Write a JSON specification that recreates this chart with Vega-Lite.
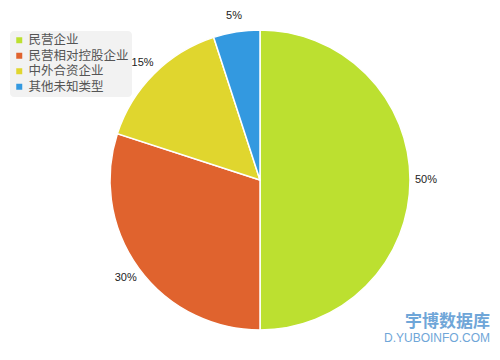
{
  "$schema": "https://vega.github.io/schema/vega-lite/v6.json",
  "width": 520,
  "height": 360,
  "padding": 0,
  "autosize": "none",
  "background": "white",
  "title": {
    "text": "宇博数据库",
    "subtitle": "D.YUBOINFO.COM",
    "orient": "bottom",
    "anchor": "end",
    "offset": -46,
    "dx": -30,
    "fontSize": 17,
    "fontWeight": "bold",
    "color": "#6fa6d8",
    "subtitleColor": "#6fa6d8",
    "subtitleFontSize": 12,
    "subtitlePadding": 2,
    "font": "Noto Sans CJK SC",
    "subtitleFont": "Liberation Sans"
  },
  "data": {
    "values": [
      {"type": "民营企业", "pct": 50, "label": "50%", "ord": 1},
      {"type": "民营相对控股企业", "pct": 30, "label": "30%", "ord": 2},
      {"type": "中外合资企业", "pct": 15, "label": "15%", "ord": 3},
      {"type": "其他未知类型", "pct": 5, "label": "5%", "ord": 4}
    ]
  },
  "encoding": {
    "theta": {"field": "pct", "type": "quantitative", "stack": true},
    "order": {"field": "ord", "type": "quantitative"},
    "color": {
      "field": "type",
      "type": "nominal",
      "sort": ["民营企业", "民营相对控股企业", "中外合资企业", "其他未知类型"],
      "scale": {
        "domain": ["民营企业", "民营相对控股企业", "中外合资企业", "其他未知类型"],
        "range": ["#bce030", "#e0632e", "#e0d62e", "#3399e0"]
      },
      "legend": {
        "title": null,
        "orient": "none",
        "legendX": 10,
        "legendY": 31,
        "fillColor": "#f2f2f2",
        "cornerRadius": 4,
        "padding": 3,
        "symbolType": "square",
        "symbolSize": 36,
        "symbolStrokeWidth": 0,
        "labelFontSize": 12.5,
        "labelColor": "#555555",
        "labelFont": "Noto Sans CJK SC",
        "rowPadding": 2.5,
        "labelOffset": 3
      }
    }
  },
  "layer": [
    {
      "mark": {"type": "arc", "outerRadius": 150, "stroke": "white", "strokeWidth": 1.5}
    },
    {
      "mark": {"type": "text", "radius": 166, "fontSize": 11, "color": "#222222", "font": "Liberation Sans"},
      "encoding": {
        "text": {"field": "label", "type": "nominal"},
        "color": {"value": "#222222"}
      }
    }
  ]
}
